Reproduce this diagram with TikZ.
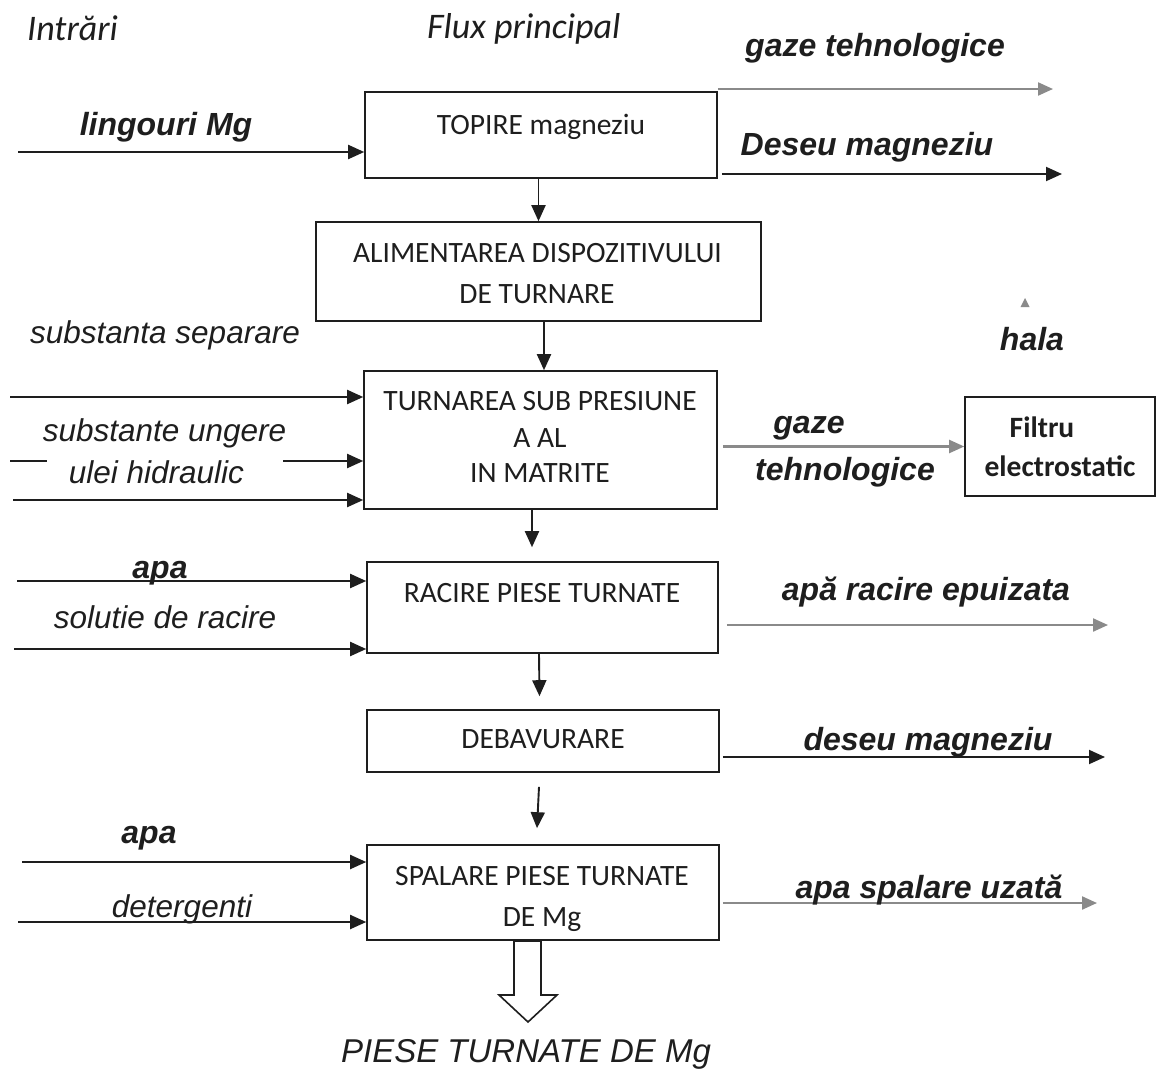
\documentclass[tikz,border=0pt]{standalone}
\usepackage{fontspec}
\setmainfont{Liberation Sans}
\newfontfamily\calfont{Carlito}
\usetikzlibrary{arrows.meta}
\definecolor{ink}{HTML}{1E1E1E}
\definecolor{grayarrow}{HTML}{8A8A8A}
\begin{document}
\begin{tikzpicture}[x=1pt,y=-1pt,
  box/.style={draw=ink,line width=1.6pt,inner sep=0pt,rectangle},
  arr/.style={draw=ink,line width=1.9pt,-{Triangle[length=16pt,width=14pt]}},
  garr/.style={draw=grayarrow,line width=2.2pt,-{Triangle[length=15pt,width=13pt]}},
  plainline/.style={draw=ink,line width=1.9pt},
  boxtxt/.style={anchor=base,inner sep=0pt,font=\calfont\fontsize{29.5}{34}\selectfont,text=ink},
  head/.style={anchor=base west,inner sep=0pt,font=\calfont\itshape\fontsize{36}{42}\selectfont,text=ink},
  labit/.style={anchor=base,inner sep=0pt,font=\itshape\fontsize{31.5}{37}\selectfont,text=ink},
  labbf/.style={anchor=base,inner sep=0pt,font=\bfseries\itshape\fontsize{32}{38}\selectfont,text=ink},
  filt/.style={anchor=base,inner sep=0pt,font=\calfont\bfseries\fontsize{29.5}{34}\selectfont,text=ink}
]
\useasboundingbox (0,0) rectangle (1157,1071);
\fill[white] (0,0) rectangle (1157,1071);

% headers
\node[head] (hIn) at (27,40) {Intrări};
\node[head] (hFlux) at (427,38) {Flux principal};

% boxes
\node[box,minimum width=352pt,minimum height=86pt] (topire) at (541,135) {};
\node[box,minimum width=445pt,minimum height=99pt] (alim) at (538.5,271.5) {};
\node[box,minimum width=353pt,minimum height=138pt] (turn) at (540.5,440) {};
\node[box,minimum width=351pt,minimum height=91pt] (racire) at (542.5,607.5) {};
\node[box,minimum width=352pt,minimum height=62pt] (debav) at (543,741) {};
\node[box,minimum width=352pt,minimum height=95pt] (spalare) at (543,892.5) {};
\node[box,minimum width=190pt,minimum height=99pt] (filtru) at (1060,446.5) {};

% box texts
\node[boxtxt] (t1) at (541,134) {TOPIRE magneziu};
\node[boxtxt] (t2a) at (537.5,262) {ALIMENTAREA DISPOZITIVULUI};
\node[boxtxt] (t2b) at (537,303) {DE TURNARE};
\node[boxtxt] (t3a) at (540,410) {TURNAREA SUB PRESIUNE};
\node[boxtxt] (t3b) at (540,447) {A AL};
\node[boxtxt] (t3c) at (540,482) {IN MATRITE};
\node[boxtxt] (t4) at (542,602) {RACIRE PIESE TURNATE};
\node[boxtxt] (t5) at (543,748) {DEBAVURARE};
\node[boxtxt] (t6a) at (542,885) {SPALARE PIESE TURNATE};
\node[boxtxt] (t6b) at (542,926) {DE Mg};
\node[filt] (f1) at (1042,437) {Filtru};
\node[filt] (f2) at (1060,476) {electrostatic};

% main flow arrows
\draw[arr] (topire.south -| alim.north) -- (alim.north);
\draw[arr] ([xshift=5.5pt]alim.south) -- ([xshift=3.5pt]turn.north);
\draw[arr] ([xshift=-8.5pt]turn.south) -- ([xshift=-10.5pt,yshift=14pt]racire.north);
\draw[arr] ([xshift=-3.5pt]racire.south) -- ([xshift=-3.5pt,yshift=13pt]debav.north);
\draw[arr] ([xshift=-4pt,yshift=-14pt]debav.south) -- ([xshift=-6pt,yshift=16pt]spalare.north);

% final hollow arrow
\draw[ink,line width=1.6pt,line join=miter] (514,941) -- (541,941) -- (541,995) -- (557,995) -- (528,1022) -- (499,995) -- (514,995) -- cycle;
\node[labit,font=\itshape\fontsize{33}{39}\selectfont] (prod) at (526,1062) {PIESE TURNATE DE Mg};

% inputs
\coordinate (i1) at (18,152);
\draw[arr] (i1) -- (i1 -| topire.west);
\node[labbf] (l1) at (166,135) {lingouri Mg};

\node[labit] (l2) at (165,343) {substanta separare};
\coordinate (i2) at (10,397);
\draw[arr] (i2) -- (i2 -| turn.west);
\node[labit] (l3) at (164.5,441) {substante ungere};
\coordinate (i3a) at (10,461);
\coordinate (i3b) at (47,461);
\coordinate (i3c) at (283,461);
\draw[plainline] (i3a) -- (i3b);
\draw[arr] (i3c) -- (i3c -| turn.west);
\node[labit] (l4) at (156.5,483) {ulei hidraulic};
\coordinate (i4) at (13,500);
\draw[arr] (i4) -- (i4 -| turn.west);

\coordinate (i5) at (17,581);
\draw[arr] (i5) -- (i5 -| racire.west);
\node[labbf] (l5) at (160,578) {apa};
\node[labit] (l6) at (165,628) {solutie de racire};
\coordinate (i6) at (14,649);
\draw[arr] (i6) -- (i6 -| racire.west);

\node[labbf] (l7) at (149,843) {apa};
\coordinate (i7) at (22,862);
\draw[arr] (i7) -- (i7 -| spalare.west);
\node[labit] (l8) at (182,917) {detergenti};
\coordinate (i8) at (18,922);
\draw[arr] (i8) -- (i8 -| spalare.west);

% outputs
\coordinate (o1) at (1053,89);
\draw[garr] (o1 -| topire.east) -- (o1);
\node[labbf] (r1) at (875,56) {gaze tehnologice};
\coordinate (o2) at (1062,174);
\draw[arr] ([xshift=4pt]o2 -| topire.east) -- (o2);
\node[labbf] (r2) at (867,155) {Deseu magneziu};

\fill[grayarrow] (1020.5,307) -- (1025,298) -- (1029.5,307) -- cycle;
\node[labbf] (hala) at (1032,350) {hala};

\draw[garr] ([xshift=5pt]turn.east |- filtru.west) -- (filtru.west);
\node[labbf] (r3a) at (809,433) {gaze};
\node[labbf] (r3b) at (845,480) {tehnologice};

\coordinate (o4) at (1108,625);
\draw[garr] ([xshift=8pt]o4 -| racire.east) -- (o4);
\node[labbf] (r4) at (926,600) {apă racire epuizata};

\coordinate (o5) at (1105,757);
\draw[arr] ([xshift=3pt]o5 -| debav.east) -- (o5);
\node[labbf] (r5) at (928,750) {deseu magneziu};

\coordinate (o6) at (1097,903);
\draw[garr] ([xshift=3pt]o6 -| spalare.east) -- (o6);
\node[labbf] (r6) at (929,898) {apa spalare uzată};
\end{tikzpicture}
\end{document}
